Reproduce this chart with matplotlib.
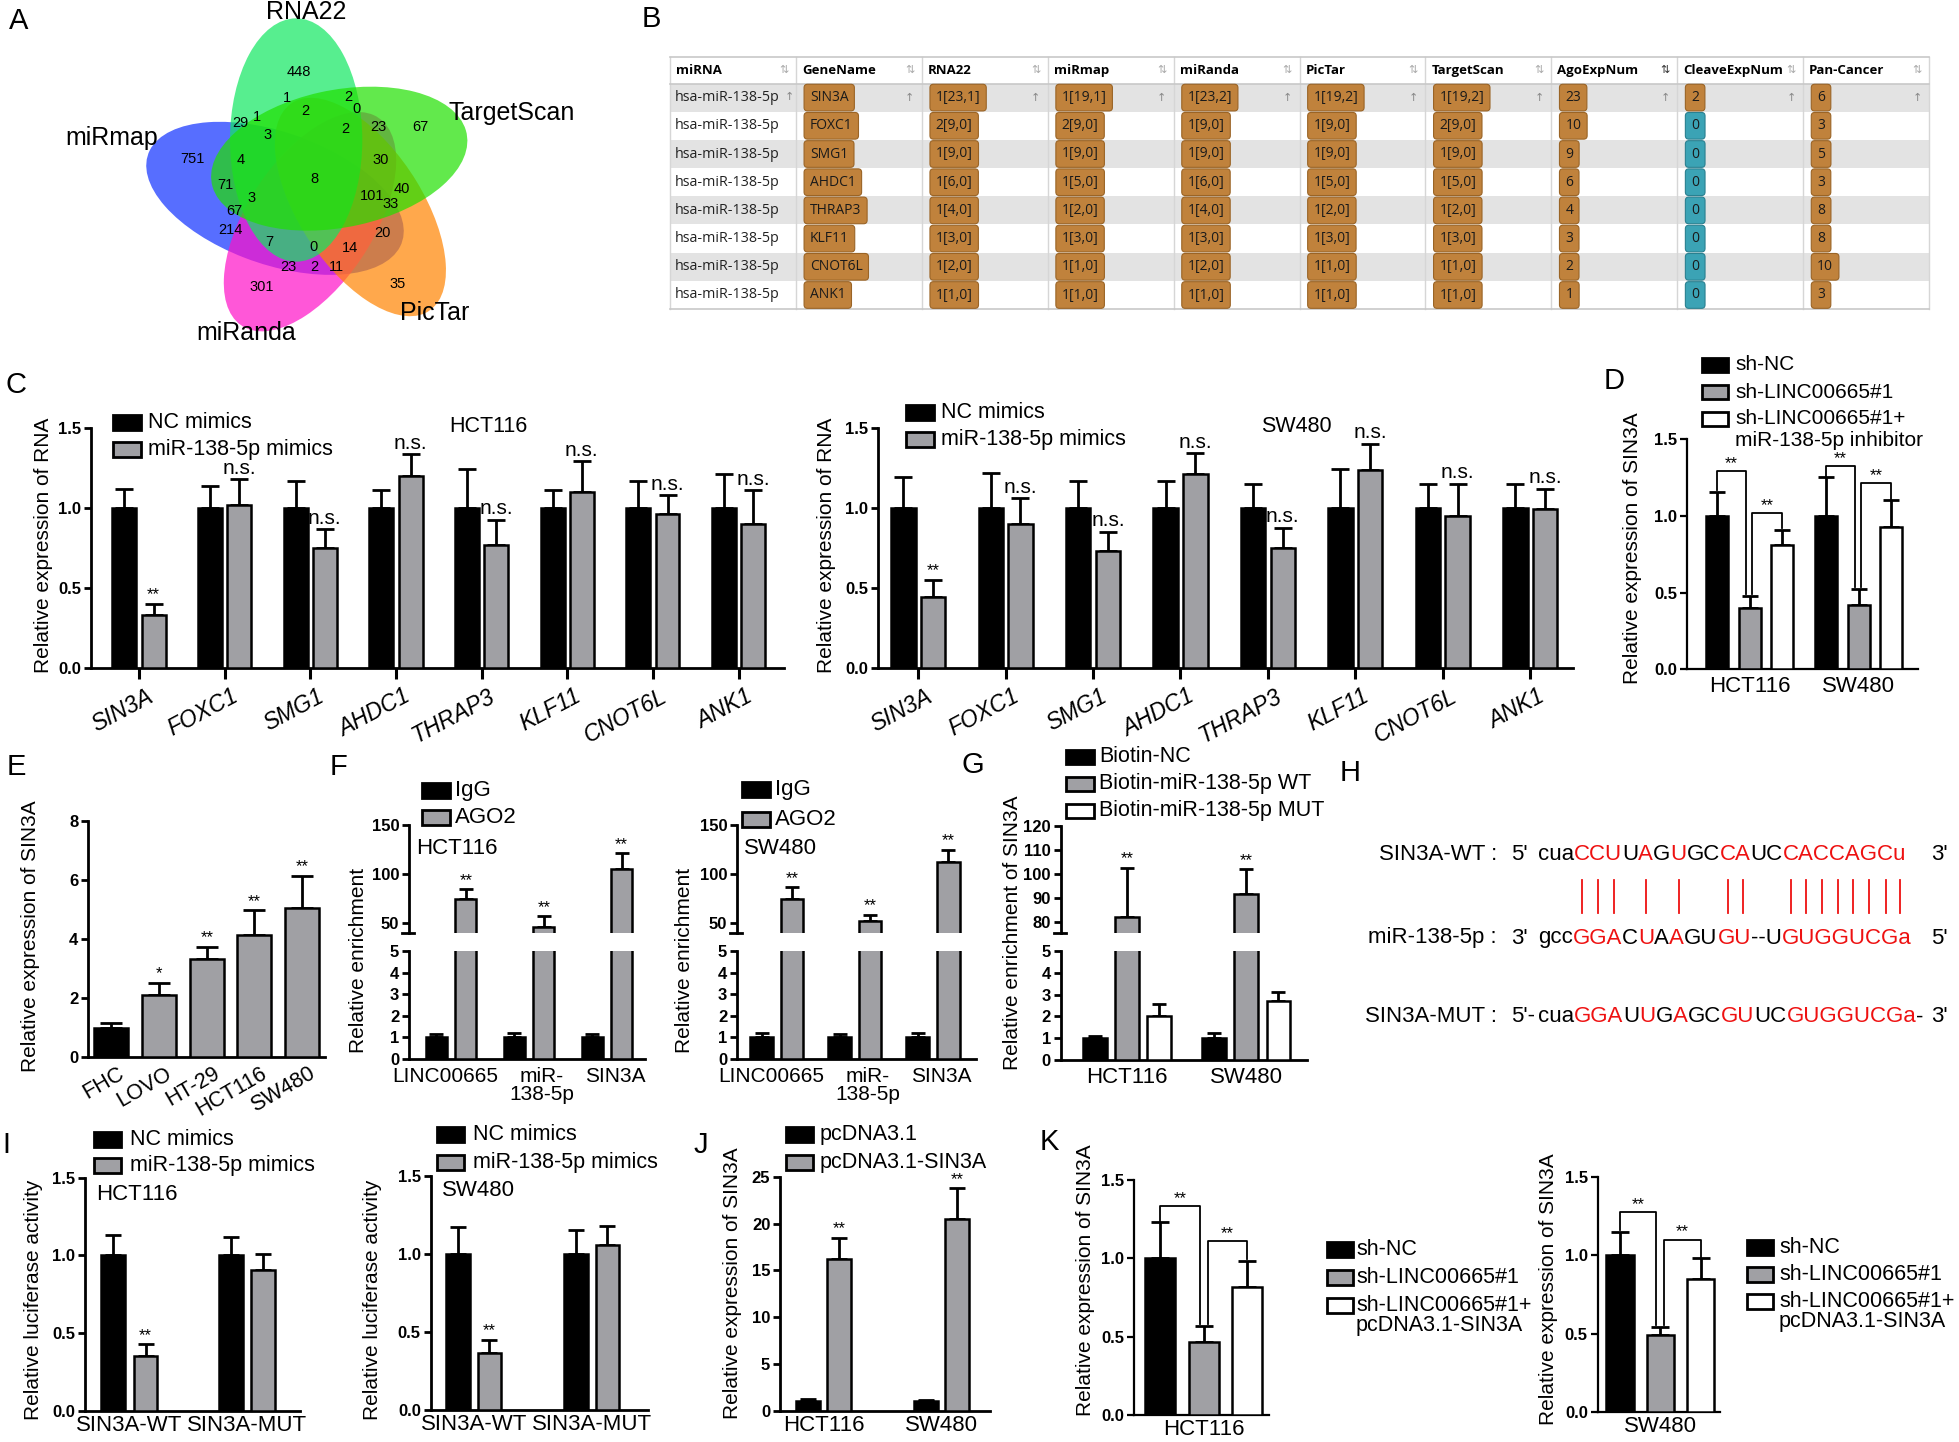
import numpy as np
import matplotlib
matplotlib.use("Agg")
import matplotlib.pyplot as plt
from matplotlib.patches import Ellipse, Rectangle
from matplotlib.font_manager import FontProperties
from matplotlib.transforms import ScaledTranslation

plt.rcParams['font.family'] = ['Liberation Sans', 'DejaVu Sans']

W, H = 1959, 1442
BLACK, GREY, WHITE = 'black', '#a0a0a4', 'white'

# ---------------- data ----------------
# A: venn of predicted targets
venn_sets = ["miRmap", "miRanda", "PicTar", "RNA22", "TargetScan"]
venn_counts = [448, 1, 2, 0, 2, 1, 29, 3, 2, 23, 67, 751, 4, 30, 8, 71, 3, 101,
               40, 33, 67, 214, 20, 7, 0, 14, 23, 2, 11, 301, 35]

# B: starBase table
tab_header = ["miRNA", "GeneName", "RNA22", "miRmap", "miRanda", "PicTar",
              "TargetScan", "AgoExpNum", "CleaveExpNum", "Pan-Cancer"]
tab_mirna = "hsa-miR-138-5p"
genes = ["SIN3A", "FOXC1", "SMG1", "AHDC1", "THRAP3", "KLF11", "CNOT6L", "ANK1"]
tab_rna22 = ["1[23,1]", "2[9,0]", "1[9,0]", "1[6,0]", "1[4,0]", "1[3,0]", "1[2,0]", "1[1,0]"]
tab_mirmap = ["1[19,1]", "2[9,0]", "1[9,0]", "1[5,0]", "1[2,0]", "1[3,0]", "1[1,0]", "1[1,0]"]
tab_miranda = ["1[23,2]", "1[9,0]", "1[9,0]", "1[6,0]", "1[4,0]", "1[3,0]", "1[2,0]", "1[1,0]"]
tab_pictar = ["1[19,2]", "1[9,0]", "1[9,0]", "1[5,0]", "1[2,0]", "1[3,0]", "1[1,0]", "1[1,0]"]
tab_targetscan = ["1[19,2]", "2[9,0]", "1[9,0]", "1[5,0]", "1[2,0]", "1[3,0]", "1[1,0]", "1[1,0]"]
tab_ago = [23, 10, 9, 6, 4, 3, 2, 1]
tab_cleave = [2, 0, 0, 0, 0, 0, 0, 0]
tab_pancancer = [6, 3, 5, 3, 8, 8, 10, 3]

# C: relative RNA expression
c_hct_nc = [1.0, 1.0, 1.0, 1.0, 1.0, 1.0, 1.0, 1.0]
c_hct_nc_sd = [0.12, 0.135, 0.17, 0.11, 0.24, 0.11, 0.17, 0.21]
c_hct_mim = [0.33, 1.02, 0.75, 1.20, 0.77, 1.10, 0.96, 0.90]
c_hct_mim_sd = [0.07, 0.16, 0.115, 0.135, 0.155, 0.19, 0.12, 0.21]
c_sw_nc = [1.0, 1.0, 1.0, 1.0, 1.0, 1.0, 1.0, 1.0]
c_sw_nc_sd = [0.19, 0.22, 0.165, 0.165, 0.15, 0.245, 0.15, 0.15]
c_sw_mim = [0.44, 0.90, 0.73, 1.21, 0.75, 1.235, 0.95, 0.99]
c_sw_mim_sd = [0.11, 0.16, 0.12, 0.13, 0.125, 0.165, 0.20, 0.13]
c_sig = ["**", "n.s.", "n.s.", "n.s.", "n.s.", "n.s.", "n.s.", "n.s."]

# D
cells = ["HCT116", "SW480"]
d_shnc = [1.0, 1.0]
d_shnc_sd = [0.157, 0.25]
d_sh = [0.40, 0.42]
d_sh_sd = [0.08, 0.105]
d_inh = [0.81, 0.93]
d_inh_sd = [0.10, 0.17]

# E
e_lines = ["FHC", "LOVO", "HT-29", "HCT116", "SW480"]
e_vals = [1.0, 2.12, 3.33, 4.14, 5.05]
e_sd = [0.15, 0.40, 0.42, 0.84, 1.10]
e_sig = ["", "*", "**", "**", "**"]

# F: RIP
f_targets = ["LINC00665", "miR-\n138-5p", "SIN3A"]
f_hct_igg = [1.0, 1.0, 1.0]
f_hct_igg_sd = [0.16, 0.22, 0.17]
f_hct_ago = [74.7, 45.6, 105.3]
f_hct_ago_sd = [9.9, 11.2, 15.7]
f_sw_igg = [1.0, 1.0, 1.0]
f_sw_igg_sd = [0.19, 0.14, 0.22]
f_sw_ago = [74.7, 51.7, 112.0]
f_sw_ago_sd = [11.6, 6.8, 13.0]

# G: pull-down
g_nc = [1.0, 1.0]
g_nc_sd = [0.10, 0.22]
g_wt = [82.3, 91.6]
g_wt_sd = [20.3, 10.4]
g_mut = [2.03, 2.72]
g_mut_sd = [0.52, 0.38]

# H: binding sites
h_wt_seq, h_wt_mask = "cuaCCUUAGUGCCAUCCACCAGCu", "000111010100110011111111"
h_mir_seq, h_mir_mask = "gccGGACUAAGUGU--UGUGGUCGa", "0001110101001100011111111"
h_mut_seq, h_mut_mask = "cuaGGAUUGAGCGUUCGUGGUCGa", "000111010100110011111111"

# I: luciferase
i_constructs = ["SIN3A-WT", "SIN3A-MUT"]
i_hct_nc = [1.0, 1.0]
i_hct_nc_sd = [0.133, 0.118]
i_hct_mim = [0.354, 0.903]
i_hct_mim_sd = [0.073, 0.107]
i_sw_nc = [1.0, 1.0]
i_sw_nc_sd = [0.175, 0.154]
i_sw_mim = [0.363, 1.058]
i_sw_mim_sd = [0.086, 0.119]

# J
j_vec = [1.0, 1.0]
j_vec_sd = [0.20, 0.14]
j_sin = [16.2, 20.5]
j_sin_sd = [2.3, 3.25]

# K
k_hct = [1.0, 0.464, 0.819]
k_hct_sd = [0.23, 0.104, 0.164]
k_sw = [1.0, 0.49, 0.847]
k_sw_sd = [0.15, 0.054, 0.134]

# ---------------- layout helpers ----------------
fig = plt.figure(figsize=(W / 100, H / 100), dpi=100)
ov = fig.add_axes([0, 0, 1, 1], zorder=10)
ov.set_xlim(0, W)
ov.set_ylim(H, 0)
ov.axis('off')


def letter(x, y, s):
    ov.text(x, y, s, fontsize=21, ha='center', va='center')


def ylab(x, y, s, fs=15):
    ov.text(x, y, s, fontsize=fs, rotation=90, ha='center', va='center')


def legend(x, y, labels, colors, dy, fs=15.5, bw=27, bh=15, gap=7, lh=20):
    for i, (lab, c) in enumerate(zip(labels, colors)):
        yy = y + i * dy
        ov.add_patch(Rectangle((x, yy - bh / 2), bw, bh, fc=c, ec='black', lw=2))
        for k, line in enumerate(lab.split("\n")):
            ov.text(x + bw + gap, yy + k * lh, line, fontsize=fs, ha='left', va='center')


def panel(x0, y0, x1, y1, xlim, ylim, yticks, fmt, lw=2):
    ax = fig.add_axes([x0 / W, 1 - y1 / H, (x1 - x0) / W, (y1 - y0) / H])
    ax.patch.set_alpha(0)
    ax.set_xlim(xlim)
    ax.set_ylim(ylim)
    for s in ("top", "right"):
        ax.spines[s].set_visible(False)
    for s in ("left", "bottom"):
        ax.spines[s].set_linewidth(lw)
    ax.set_yticks(yticks)
    ax.set_yticklabels([fmt.format(t) for t in yticks], fontweight="bold", fontsize=12)
    ax.tick_params(axis="y", length=5, width=lw, pad=2)
    ax.tick_params(axis="x", length=0, pad=5, labelsize=15.5)
    ax.set_xticks([])
    return ax


def bars(ax, x, vals, sd, color, width, cap):
    ax.bar(x, vals, width, color=color, edgecolor="black", linewidth=1.8, zorder=3)
    ax.errorbar(x, vals, yerr=[np.zeros(len(vals)), sd], fmt="none", ecolor="black",
                elinewidth=2, capsize=cap, capthick=2, zorder=2)


def mark(ax, x, vals, sd, sig):
    for xi, v, s, t in zip(x, vals, sd, sig):
        if t:
            ax.annotate(t, (xi, v + s), xytext=(0, 1), textcoords="offset points",
                        ha="center", va="bottom", fontsize=15 if t == "n.s." else 12,
                        annotation_clip=False)


def bracket(ax, xa, xb, ya, yb, h):
    ax.plot([xa, xa, xb, xb], [ya, h, h, yb], color="black", lw=1.3, clip_on=False)
    ax.annotate("**", ((xa + xb) / 2, h), xytext=(0, 0), textcoords="offset points",
                ha="center", va="bottom", fontsize=12, annotation_clip=False)


def rot_labels(ax, xs, labels, dx, dy, rot, **kw):
    tr = ax.get_xaxis_transform() + ScaledTranslation(dx / 100, -dy / 100, fig.dpi_scale_trans)
    for x, s in zip(xs, labels):
        ax.text(x, 0, s, transform=tr, rotation=rot, ha='right', va='top',
                rotation_mode='anchor', **kw)


# ---------------- A: venn ----------------
va = fig.add_axes([0, 1 - 355 / H, 600 / W, 355 / H])
va.set_xlim(0, 1560)
va.set_ylim(1065, 0)
va.axis('off')
venn_shapes = [(715, 595, 356, 195, 24), (806, 665, 360, 170, -62.6),
               (937, 621, 360, 165, 62.2), (770, 420, 365, 172, 90),
               (882, 476, 340, 205, -14.5)]
venn_colors = ['#1030ff', '#ff10c8', '#ff8400', '#10e860', '#20e000']
for (cx, cy, a, b, ang), col in zip(venn_shapes, venn_colors):
    va.add_patch(Ellipse((cx, cy), 2 * a, 2 * b, angle=ang, fc=col, ec='none', alpha=0.7))
venn_label_pos = [(290, 415), (640, 1000), (1130, 940), (795, 35), (1330, 340)]
for name, (x, y) in zip(venn_sets, venn_label_pos):
    va.text(x, y, name, fontsize=18, ha='center', va='center')
venn_pos = [(778, 215), (745, 295), (905, 290), (928, 328), (795, 332), (668, 350),
            (625, 370), (695, 405), (898, 388), (985, 382), (1093, 380), (500, 477),
            (627, 480), (990, 480), (817, 537), (587, 555), (653, 595), (967, 588),
            (1045, 568), (1015, 612), (610, 632), (600, 690), (995, 700), (700, 725),
            (815, 742), (910, 745), (750, 800), (818, 800), (875, 800), (680, 862),
            (1033, 852)]
for n, (x, y) in zip(venn_counts, venn_pos):
    va.text(x, y, str(n), fontsize=10.5, ha='center', va='center')

# ---------------- B: table ----------------
tx0, tcw, ty0, thh, trh = 670, 125.9, 57, 26.5, 28.2
ncol = len(tab_header)
tfont = ['Open Sans', 'DejaVu Sans']
for r in range(len(genes)):
    yt = ty0 + thh + r * trh
    if r % 2 == 0:
        ov.add_patch(Rectangle((tx0, yt), ncol * tcw, trh, fc='#e3e3e3', ec='none'))
ybot = ty0 + thh + len(genes) * trh
for c in range(ncol + 1):
    ov.plot([tx0 + c * tcw] * 2, [ty0, ybot], color='#d6d6d6', lw=1)
for yy in (ty0, ty0 + thh, ybot):
    ov.plot([tx0, tx0 + ncol * tcw], [yy, yy], color='#c8c8c8', lw=1.2)
for c, name in enumerate(tab_header):
    ov.text(tx0 + c * tcw + 6, ty0 + thh / 2, name, family=tfont, fontweight='bold',
            fontsize=9.5, ha='left', va='center')
    ov.text(tx0 + (c + 1) * tcw - 12, ty0 + thh / 2, "\u21c5", family=['DejaVu Sans'],
            fontsize=8, ha='center', va='center',
            color='#333333' if name == "AgoExpNum" else '#aaaaaa')
columns = [genes, tab_rna22, tab_mirmap, tab_miranda, tab_pictar, tab_targetscan,
           tab_ago, tab_cleave, tab_pancancer]
for r in range(len(genes)):
    yc = ty0 + thh + (r + 0.5) * trh
    ov.text(tx0 + 5, yc, tab_mirna, family=tfont, fontsize=10.3, ha='left', va='center',
            color='#222222')
    for c, col in enumerate(columns, start=1):
        val = col[r]
        fc = '#3ba3b5' if (c == 8 and val == 0) else '#c0823c'
        ov.text(tx0 + c * tcw + 14, yc, str(val), family=tfont, fontsize=10,
                ha='left', va='center', color='#1a1a1a',
                bbox=dict(boxstyle='round,pad=0.42,rounding_size=0.25', fc=fc,
                          ec='#9a6426' if fc == '#c0823c' else '#2a8090', lw=0.8))
    if r == 0:
        ov.text(tx0 + 119, yc - 1, "\u2191", family=['DejaVu Sans'], fontsize=8,
                color='#888888', ha='center', va='center')
        for c in range(1, ncol):
            ov.text(tx0 + (c + 1) * tcw - 12, yc, "\u2191", family=['DejaVu Sans'],
                    fontsize=8, color='#888888', ha='center', va='center')

# ---------------- C ----------------
xc = np.arange(len(genes))
for (x0, x1, xlim, nc, ncsd, mim, mimsd, cell, cellx, legx, legy, legdy, ylx) in [
        (91, 784, (-0.56, 7.53), c_hct_nc, c_hct_nc_sd, c_hct_mim, c_hct_mim_sd,
         "HCT116", 488, 113, 422.5, 26.5, 44),
        (878, 1573, (-0.46, 7.49), c_sw_nc, c_sw_nc_sd, c_sw_mim, c_sw_mim_sd,
         "SW480", 1296, 906, 412.5, 27, 826)]:
    ax = panel(x0, 427.7, x1, 667.7, xlim, (0, 1.5), [0, 0.5, 1.0, 1.5], "{:.1f}")
    bars(ax, xc - 0.17, nc, ncsd, BLACK, 0.28, 6.5)
    bars(ax, xc + 0.17, mim, mimsd, GREY, 0.28, 6.5)
    mark(ax, xc + 0.17, mim, mimsd, c_sig)
    ax.set_xticks(xc)
    ax.set_xticklabels([])
    ax.tick_params(axis='x', length=8, width=2.2)
    rot_labels(ax, xc, genes, 7, 17, 28, fontsize=16.5, style='italic')
    ov.text(cellx, 427, cell, fontsize=15.5, ha='center', va='center')
    legend(legx, legy, ["NC mimics", "miR-138-5p mimics"], [BLACK, GREY], legdy,
           fs=15.5, bw=28, bh=15, gap=7)
    ylab(ylx, 545, "Relative expression of RNA")

# ---------------- D ----------------
xd = np.arange(len(cells))
d_bracket_gap = [[0.133, 0.11], [0.076, 0.115]]
ax = panel(1687, 439, 1918, 669.3, (-0.575, 1.544), (0, 1.5), [0, 0.5, 1.0, 1.5],
           "{:.1f}", lw=1.6)
bars(ax, xd - 0.297, d_shnc, d_shnc_sd, BLACK, 0.2, 5.5)
bars(ax, xd, d_sh, d_sh_sd, GREY, 0.2, 5.5)
bars(ax, xd + 0.297, d_inh, d_inh_sd, WHITE, 0.2, 5.5)
ax.set_xticks(xd)
ax.set_xticklabels(cells, fontsize=16)
for g in range(len(cells)):
    t1 = d_shnc[g] + d_shnc_sd[g]
    t2 = d_sh[g] + d_sh_sd[g]
    t3 = d_inh[g] + d_inh_sd[g]
    g1, g2 = d_bracket_gap[g]
    bracket(ax, g - 0.297, g - 0.037, t1 + 0.01, t2 + 0.01, max(t1, t2) + g1)
    bracket(ax, g + 0.02, g + 0.297, t2 + 0.01, t3 + 0.01, max(t2, t3) + g2)
legend(1702, 365, ["sh-NC", "sh-LINC00665#1", "sh-LINC00665#1+\nmiR-138-5p inhibitor"],
       [BLACK, GREY, WHITE], 27, fs=15, bw=26, bh=14, gap=7, lh=21)
ylab(1633, 548, "Relative expression of SIN3A")

# ---------------- E ----------------
xe = np.arange(len(e_lines))
ax = panel(88, 821, 325, 1057.3, (-0.49, 4.48), (0, 8), [0, 2, 4, 6, 8], "{:.0f}")
bars(ax, xe, e_vals, e_sd, [BLACK, GREY, GREY, GREY, GREY], 0.71, 8)
mark(ax, xe, e_vals, e_sd, e_sig)
rot_labels(ax, xe, e_lines, 6, 6, 30, fontsize=15.5)
ylab(30.5, 936, "Relative expression of SIN3A")


# ---------------- F / G broken axes ----------------
def broken(x0, x1, ytop, yb1, yb2, ybot, xlim, uplim, upticks, lolim, loticks):
    up = panel(x0, ytop, x1, yb1, xlim, uplim, upticks, "{:.0f}")
    lo = panel(x0, yb2, x1, ybot, xlim, lolim, loticks, "{:.0f}")
    up.spines['bottom'].set_visible(False)
    ov.plot([x0 - 7, x0 + 5], [yb1, yb1], color='black', lw=2)
    return up, lo


xf = np.arange(len(f_targets))
f_label_shift = np.array([-0.07, 0.16, 0.11])
for (x0, x1, xlim, off, wd, igg, iggsd, ago, agosd, cell, legx, legy, legdy, ylx) in [
        (409, 645, (-0.54, 2.49), 0.19, 0.27, f_hct_igg, f_hct_igg_sd, f_hct_ago,
         f_hct_ago_sd, "HCT116", 422, 790.5, 27, 358),
        (737, 976, (-0.51, 2.55), 0.195, 0.29, f_sw_igg, f_sw_igg_sd, f_sw_ago,
         f_sw_ago_sd, "SW480", 742, 789, 30.5, 685)]:
    up, lo = broken(x0, x1, 825, 933, 951, 1059, xlim, (39.8, 150), [50, 100, 150],
                    (0, 5), [0, 1, 2, 3, 4, 5])
    for a in (up, lo):
        bars(a, xf - off, igg, iggsd, BLACK, wd, 5)
        bars(a, xf + off, ago, agosd, GREY, wd, 5)
    mark(up, xf + off, ago, agosd, ["**", "**", "**"])
    lo.set_xticks(xf + f_label_shift)
    lo.set_xticklabels(f_targets, fontsize=15, linespacing=0.95)
    lo.tick_params(axis='x', pad=5.5)
    legend(legx, legy, ["IgG", "AGO2"], [BLACK, GREY], legdy, fs=16, bw=28, bh=15, gap=5)
    ov.text(x0 + 7, 848, cell, fontsize=16, ha='left', va='center')
    ylab(ylx, 960, "Relative enrichment")

xg = np.arange(len(cells))
up, lo = broken(1060.5, 1307, 825.7, 933.3, 951, 1060, (-0.56, 1.51), (75.4, 120),
                [80, 90, 100, 110, 120], (0, 5), [0, 1, 2, 3, 4, 5])
for a in (up, lo):
    bars(a, xg - 0.27, g_nc, g_nc_sd, BLACK, 0.2, 5)
    bars(a, xg, g_wt, g_wt_sd, GREY, 0.2, 5)
    bars(a, xg + 0.27, g_mut, g_mut_sd, WHITE, 0.2, 5)
mark(up, xg, g_wt, g_wt_sd, ["**", "**"])
lo.set_xticks(xg)
lo.set_xticklabels(cells, fontsize=16)
legend(1066, 756.5, ["Biotin-NC", "Biotin-miR-138-5p WT", "Biotin-miR-138-5p MUT"],
       [BLACK, GREY, WHITE], 27, fs=15.5, bw=28, bh=14, gap=5)
ylab(1013, 933, "Relative enrichment of SIN3A")

# ---------------- H ----------------
fp_seq = FontProperties(family='Liberation Sans', size=16)
rend = fig.canvas.get_renderer()


def tw(s):
    if not s:
        return 0.0
    return rend.get_text_width_height_descent(s, fp_seq, ismath=False)[0]


def draw_seq(x, y, seq, mask):
    i = 0
    while i < len(seq):
        j = i
        while j < len(seq) and mask[j] == mask[i]:
            j += 1
        ov.text(x + tw(seq[:i]), y, seq[i:j], fontproperties=fp_seq, ha='left',
                va='center', color='#ee1111' if mask[i] == '1' else 'black')
        i = j
    return [x + (tw(seq[:k]) + tw(seq[:k + 1])) / 2 for k, m in enumerate(mask) if m == '1']


rows_h = [("SIN3A-WT :", "5'", h_wt_seq, h_wt_mask, "3'", 855),
          ("miR-138-5p :", "3'", h_mir_seq, h_mir_mask, "5'", 938),
          ("SIN3A-MUT :", "5'-", h_mut_seq, h_mut_mask, "- 3'", 1017)]
centers = None
for lab, left, seq, mask, right, y in rows_h:
    ov.text(1497, y, lab, fontproperties=fp_seq, ha='right', va='center')
    ov.text(1511, y, left, fontproperties=fp_seq, ha='left', va='center')
    cs = draw_seq(1538, y, seq, mask)
    if centers is None:
        centers = cs
    if right == "- 3'":
        ov.text(1538 + tw(seq), y, "-", fontproperties=fp_seq, ha='left', va='center')
        ov.text(1931, y, "3'", fontproperties=fp_seq, ha='left', va='center')
    else:
        ov.text(1931, y, right, fontproperties=fp_seq, ha='left', va='center')
for cx in centers:
    ov.plot([cx, cx], [880, 913], color='#ee1111', lw=1.3)

# ---------------- I ----------------
xi = np.arange(len(i_constructs))
for (x0, y0, x1, y1, xlim, off, nc, ncsd, mim, mimsd, cell, celly, legx, legy, legdy, ylx) in [
        (85, 1177.7, 300, 1410.7, (-0.376, 1.45), 0.138, i_hct_nc, i_hct_nc_sd, i_hct_mim,
         i_hct_mim_sd, "HCT116", 1194, 94, 1139.5, 26, 34),
        (430.5, 1176, 648, 1410, (-0.366, 1.477), 0.133, i_sw_nc, i_sw_nc_sd, i_sw_mim,
         i_sw_mim_sd, "SW480", 1190, 437, 1134.5, 28, 373)]:
    ax = panel(x0, y0, x1, y1, xlim, (0, 1.5), [0, 0.5, 1.0, 1.5], "{:.1f}")
    bars(ax, xi - off, nc, ncsd, BLACK, 0.2, 6)
    bars(ax, xi + off, mim, mimsd, GREY, 0.2, 6)
    mark(ax, xi + off, mim, mimsd, ["**", ""])
    ax.set_xticks(xi)
    ax.set_xticklabels(i_constructs, fontsize=16)
    ax.tick_params(axis='x', pad=3)
    ov.text(x0 + 11, celly, cell, fontsize=16, ha='left', va='center')
    legend(legx, legy, ["NC mimics", "miR-138-5p mimics"], [BLACK, GREY], legdy,
           fs=15.5, bw=27, bh=15, gap=9)
    ylab(ylx, 1300, "Relative luciferase activity")

# ---------------- J ----------------
xj = np.arange(len(cells))
ax = panel(780, 1176.7, 989.5, 1410.7, (-0.369, 1.407), (0, 25), [0, 5, 10, 15, 20, 25],
           "{:.0f}")
bars(ax, xj - 0.13, j_vec, j_vec_sd, BLACK, 0.2, 6)
bars(ax, xj + 0.13, j_sin, j_sin_sd, GREY, 0.2, 6)
mark(ax, xj + 0.13, j_sin, j_sin_sd, ["**", "**"])
ax.set_xticks(xj)
ax.set_xticklabels(cells, fontsize=16)
ax.tick_params(axis='x', pad=3)
legend(786, 1134.5, ["pcDNA3.1", "pcDNA3.1-SIN3A"], [BLACK, GREY], 28, fs=15.5, bw=27,
       bh=15, gap=7)
ylab(732.6, 1283, "Relative expression of SIN3A")

# ---------------- K ----------------
xk = np.arange(3)
k_bracket_gap = [[0.104, 0.127], [0.124, 0.12]]
for (x0, y0, x1, y1, xlim, wd, unit, vals, sd, cell, legx, legy, legdy, gap, ylx, yly, bg) in [
        (1134, 1180, 1268.5, 1415, (-0.61, 2.5), 0.69, 43.3, k_hct, k_hct_sd, "HCT116",
         1327, 1249.5, 28, 3, 1085.5, 1280, k_bracket_gap[0]),
        (1597.5, 1177, 1720, 1412, (-0.56, 2.48), 0.68, 40.25, k_sw, k_sw_sd, "SW480",
         1747, 1247.5, 27, 6, 1549, 1289, k_bracket_gap[1])]:
    ax = panel(x0, y0, x1, y1, xlim, (0, 1.5), [0, 0.5, 1.0, 1.5], "{:.1f}", lw=1.6)
    bars(ax, xk, vals, sd, [BLACK, GREY, WHITE], wd, 6.5)
    ax.set_xticks([1])
    ax.set_xticklabels([cell], fontsize=16)
    ax.tick_params(axis='x', pad=3)
    d = 4 / unit
    t = [v + s for v, s in zip(vals, sd)]
    bracket(ax, 0, 1 - d, t[0] + 0.01, t[1] + 0.01, max(t[0], t[1]) + bg[0])
    bracket(ax, 1 + d, 2, t[1] + 0.01, t[2] + 0.01, max(t[1], t[2]) + bg[1])
    legend(legx, legy, ["sh-NC", "sh-LINC00665#1", "sh-LINC00665#1+\npcDNA3.1-SIN3A"],
           [BLACK, GREY, WHITE], legdy, fs=15.5, bw=26, bh=15, gap=gap, lh=20)
    ylab(ylx, yly, "Relative expression of SIN3A")

# ---------------- panel letters ----------------
for s, (x, y) in zip("ABCDEFGHIJK", [(19, 21), (651, 19), (16, 385), (1614, 381),
                                     (16, 767), (339, 767), (973, 765), (1350, 773),
                                     (6, 1145), (701, 1145), (1049, 1142)]):
    letter(x, y, s)

fig.savefig("out.png", dpi=100)
